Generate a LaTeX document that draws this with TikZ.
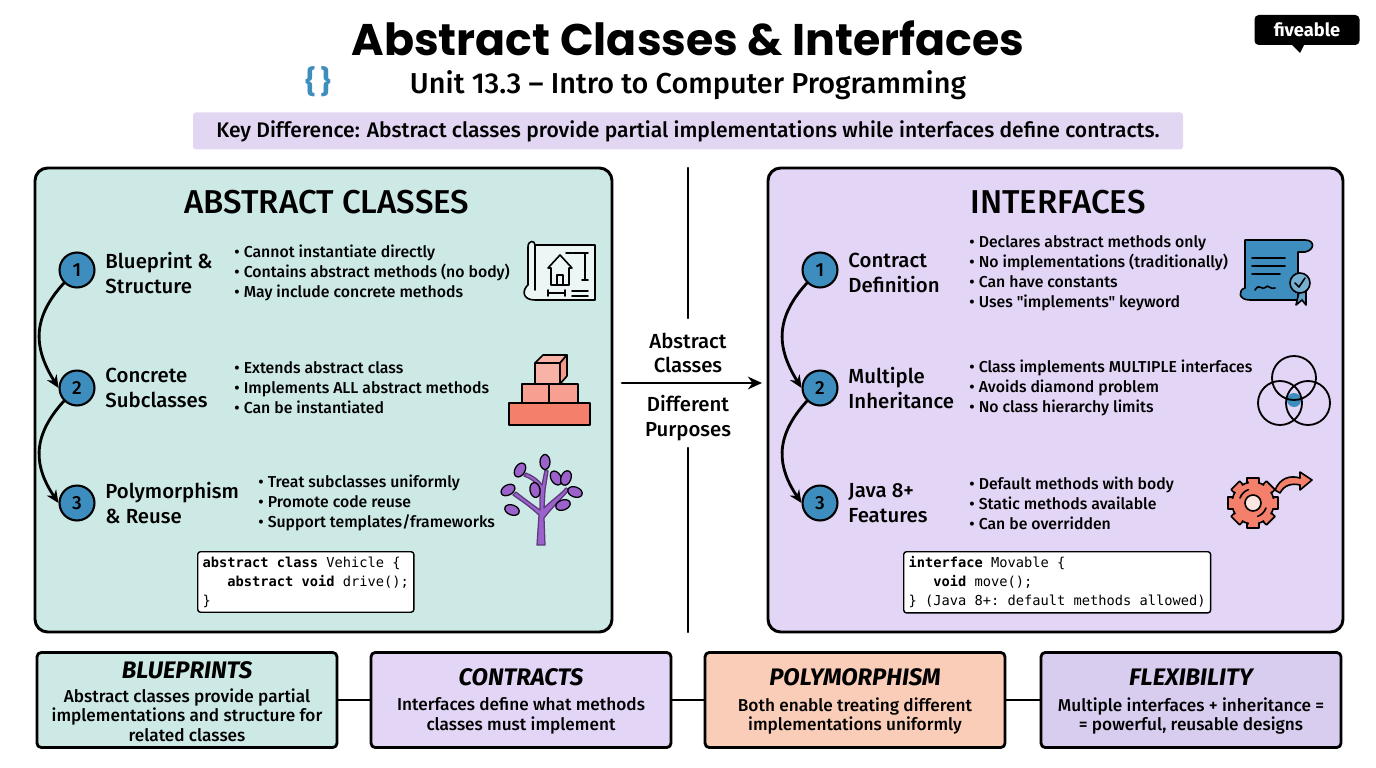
\documentclass[tikz,border=0pt]{standalone}
\usepackage{fontspec}
\setmainfont{Fira Sans}
\newfontfamily\med{Fira Sans Medium}
\newfontfamily\titlefont{Poppins}
\setmonofont{DejaVu Sans Mono}
\usetikzlibrary{arrows.meta}
\definecolor{teal}{HTML}{CCE9E6}
\definecolor{lav}{HTML}{E2D6F3}
\definecolor{lavb}{HTML}{E3D5F5}
\definecolor{peach}{HTML}{F9CDB8}
\definecolor{lav2}{HTML}{D8CDEF}
\definecolor{numblue}{HTML}{3D8DBE}
\definecolor{salmon}{HTML}{F47F6B}
\definecolor{purp}{HTML}{9B62CC}
\begin{document}
\begin{tikzpicture}[x=0.5mm,y=-0.5mm,line join=round,line cap=round,
 panel/.style={draw=black,line width=4.2pt,rounded corners=18},
 num/.style={circle,draw=black,line width=3pt,fill=numblue,minimum size=35*1.42pt,inner sep=0pt,font=\fontsize{27}{28}\selectfont\med},
 lbl/.style={anchor=west,align=left,font=\fontsize{29}{35}\selectfont\med},
 bul/.style={anchor=west,align=left,font=\fontsize{22.5}{28.5}\selectfont\med},
 ptitle/.style={font=\fontsize{47}{50}\selectfont\med},
 code/.style={draw=black,line width=2pt,fill=white,rounded corners=4,anchor=north west,align=left,inner sep=7pt,font=\fontsize{19.5}{27}\selectfont\ttfamily},
 bbox/.style={draw=black,line width=4pt,rounded corners=6,minimum width=300*1.4226pt,minimum height=95*1.4226pt},
 btitle/.style={font=\fontsize{34}{36}\selectfont\bfseries\itshape},
 btext/.style={align=center,font=\fontsize{24.5}{28}\selectfont\med},
 carr/.style={line width=4pt,-{Stealth[length=18pt,width=16pt]}}]
\useasboundingbox (0,0) rectangle (1376,768);
\fill[white] (0,0) rectangle (1376,768);
% header
\node (title) at (688,38) {\titlefont\bfseries\fontsize{63}{66}\selectfont Abstract Classes \& Interfaces};
\node (sub) at (688,85) {\med\fontsize{41}{44}\selectfont Unit 13.3 – Intro to Computer Programming};
\node[text=numblue] (brace) at (318,82) {\fontsize{44}{44}\selectfont\bfseries\{\,\}};
\node[fill=black,rounded corners=6,text=white,minimum width=105*1.4226pt,minimum height=30*1.4226pt] (logo) at (1307,30) {\fontsize{26}{26}\selectfont\bfseries fiveable};
\fill[black] (1290,43) -- (1300,53) -- (1305,43) -- cycle;
\node[fill=lav,rounded corners=4,minimum width=990*1.4226pt,minimum height=37*1.4226pt] (key) at (688,131) {\fontsize{30}{32}\selectfont\med Key Difference: Abstract classes provide partial implementations while interfaces define contracts.};
% panels
\draw[panel,fill=teal] (35,168) rectangle (612,632);
\draw[panel,fill=lavb] (768,168) rectangle (1343,632);
\node[ptitle] (at) at (327,202) {ABSTRACT CLASSES};
\node[ptitle] (it) at (1058,202) {INTERFACES};
% center
\draw[line width=3.4pt] (688,168) -- (688,318);
\draw[line width=3.4pt] (688,448) -- (688,632);
\node[align=center,font=\fontsize{29}{35}\selectfont\med] (ac) at (688,353) {Abstract\\Classes};
\node[align=center,font=\fontsize{29}{35}\selectfont\med] (dp) at (688,418) {Different\\Purposes};
\coordinate (a0) at (622,383);
\coordinate (a1) at (762,383);
\draw[line width=4pt,-{Stealth[length=20pt,width=18pt]}] (a0) -- (a1);
% left items
\node[num] (l1) at (77,270) {1};
\node[num] (l2) at (77,388) {2};
\node[num] (l3) at (77,503) {3};
\node[lbl] at (103,273) {Blueprint \&\\Structure};
\node[lbl] at (103,388) {Concrete\\Subclasses};
\node[lbl] at (103,503) {Polymorphism\\\& Reuse};
\node[bul] at (232,273) {• Cannot instantiate directly\\• Contains abstract methods (no body)\\• May include concrete methods};
\node[bul] at (232,388) {• Extends abstract class\\• Implements ALL abstract methods\\• Can be instantiated};
\node[bul] at (256,503) {• Treat subclasses uniformly\\• Promote code reuse\\• Support templates/frameworks};
\draw[carr] (l1.south west) .. controls (30,320) and (35,350) .. (l2.west);
\draw[carr] (l2.south west) .. controls (30,438) and (35,468) .. (l3.west);
\node[code] (lc) at (197,551) {\textbf{abstract class} Vehicle \{\\\ \ \ \textbf{abstract void} drive();\\\}};
% right items
\node[num] (r1) at (820,270) {1};
\node[num] (r2) at (820,388) {2};
\node[num] (r3) at (820,503) {3};
\node[lbl] at (846,273) {Contract\\Definition};
\node[lbl] at (846,388) {Multiple\\Inheritance};
\node[lbl] at (846,503) {Java 8+\\Features};
\node[bul] at (967,273) {• Declares abstract methods only\\• No implementations (traditionally)\\• Can have constants\\• Uses "implements" keyword};
\node[bul] at (967,388) {• Class implements MULTIPLE interfaces\\• Avoids diamond problem\\• No class hierarchy limits};
\node[bul] at (967,503) {• Default methods with body\\• Static methods available\\• Can be overridden};
\draw[carr] (r1.south west) .. controls (773,320) and (778,350) .. (r2.west);
\draw[carr] (r2.south west) .. controls (773,438) and (778,468) .. (r3.west);
\node[code] (rc) at (903,551) {\textbf{interface} Movable \{\\\ \ \ \textbf{void} move();\\\} (Java 8+: default methods allowed)};
% icons: blueprint
\begin{scope}[line width=2.3pt]
\draw[fill=white!60!teal] (535,245) -- (595,245) -- (595,300) -- (535,300) .. controls (522,300) and (522,290) .. (528,285) -- (528,247) .. controls (528,240) and (535,240) .. (535,245) -- (535,290);
\draw (548,268) -- (560,255) -- (572,268) -- (569,268) -- (569,285) -- (551,285) -- (551,268) -- cycle;
\draw (557,285) -- (557,275) -- (563,275) -- (563,285);
\draw (585,253) -- (585,280) (582,253) -- (588,253) (582,280) -- (588,280);
\draw[densely dotted] (566,253) -- (585,253);
\draw (548,293) -- (565,293) (548,290) -- (548,296) (565,290) -- (565,296) (572,291) -- (588,291) (572,296) -- (588,296);
% blocks
\draw[fill=salmon] (509,403) rectangle (590,425);
\draw[fill=salmon!75!white] (522,384) rectangle (578,403);
\draw (549,384) -- (549,403);
\draw[fill=salmon!60!white] (535,363) rectangle (560,384);
\draw[fill=salmon!60!white] (535,363) -- (543,355) -- (567,355) -- (560,363) -- cycle;
\draw[fill=salmon!80!white] (560,363) -- (567,355) -- (567,376) -- (560,384) -- cycle;
% tree
\draw[purp!60!black,line width=1.8pt,fill=purp] (537,545) -- (539,515) .. controls (528,505) and (520,500) .. (513,495) -- (516,492) .. controls (526,500) and (533,505) .. (540,510) -- (540,488) .. controls (536,482) and (530,478) .. (524,476) -- (526,473) .. controls (533,476) and (539,480) .. (542,485) -- (545,470) -- (548,471) -- (545,490) -- (544,508) .. controls (552,500) and (560,495) .. (566,488) -- (569,490) .. controls (560,500) and (550,510) .. (544,518) -- (545,545) -- cycle;
\foreach \p/\a in {{(508,490)}/30,{(520,470)}/60,{(545,462)}/90,{(535,490)}/100,{(556,478)}/120,{(566,478)}/70,{(575,492)}/160,{(512,510)}/-20,{(563,505)}/200}
 \draw[line width=1.8pt,fill=purp,rotate around={\a:\p}] \p ellipse (7.5 and 5);
% scroll
\draw[fill=numblue] (1245,240) -- (1305,240) .. controls (1315,240) and (1315,250) .. (1305,252) -- (1298,252) -- (1298,300) -- (1250,300) .. controls (1238,300) and (1238,290) .. (1245,288) -- cycle;
\draw (1252,258) -- (1285,258) (1252,266) -- (1285,266) (1252,274) -- (1280,274);
\draw (1255,290) .. controls (1260,282) and (1262,292) .. (1266,287) .. controls (1268,284) and (1270,290) .. (1275,288);
\draw[fill=numblue!80!white] (1300,288) -- (1296,305) -- (1302,300) -- (1306,305) -- (1306,290);
\draw[fill=numblue!70!white] (1300,283) circle (10);
\draw (1295,283) -- (1299,287) -- (1305,278);
% venn
\fill[numblue] (1294,400) circle (7);
\draw[line width=2.6pt] (1294,378) circle (22) (1280,403) circle (22) (1308,403) circle (22);
% gear
\foreach \a in {0,45,...,315} \draw[fill=salmon,rotate around={\a:(1253,503)}] (1247,478) rectangle (1259,486);
\draw[fill=salmon] (1253,503) circle (21);
\foreach \a in {0,45,...,315} \fill[salmon,rotate around={\a:(1253,503)}] (1248.5,480) rectangle (1257.5,488);
\draw[fill=white!80!salmon] (1253,503) circle (8);
\draw (1240,498) arc (200:250:14) (1266,508) arc (20:70:14);
\draw[fill=salmon] (1275,490) .. controls (1280,478) and (1290,475) .. (1300,478) -- (1300,472) -- (1312,480) -- (1300,490) -- (1300,485) .. controls (1292,483) and (1284,485) .. (1280,493) -- cycle;
\end{scope}
% bottom boxes
\node[bbox,fill=teal] (b1) at (187,700) {};
\node[bbox,fill=lavb] (b2) at (521,700) {};
\node[bbox,fill=peach] (b3) at (855,700) {};
\node[bbox,fill=lav2] (b4) at (1191,700) {};
\draw[line width=3.4pt] (b1) -- (b2) (b2) -- (b3) (b3) -- (b4);
\node[btitle] at (187,670) {BLUEPRINTS};
\node[btitle] at (521,677) {CONTRACTS};
\node[btitle] at (855,677) {POLYMORPHISM};
\node[btitle] at (1191,677) {FLEXIBILITY};
\node[btext] at (187,715) {Abstract classes provide partial\\implementations and structure for\\related classes};
\node[btext] at (521,716) {Interfaces define what methods\\classes must implement};
\node[btext] at (855,716) {Both enable treating different\\implementations uniformly};
\node[btext] at (1191,716) {Multiple interfaces + inheritance =\\= powerful, reusable designs};
\end{tikzpicture}
\end{document}
